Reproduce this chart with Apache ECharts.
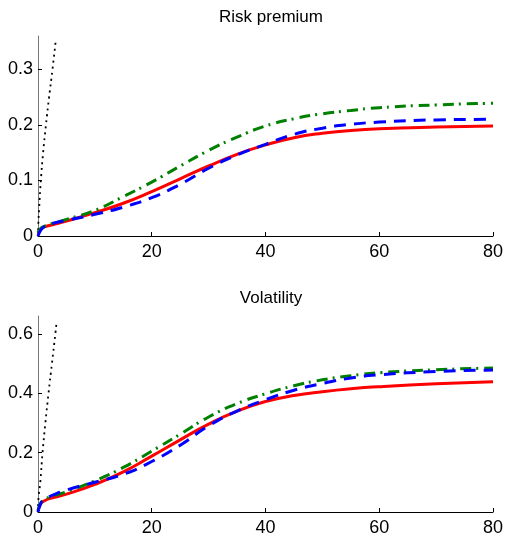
<!DOCTYPE html>
<html>
<head>
<meta charset="utf-8">
<script src="https://cdn.jsdelivr.net/npm/echarts@6/dist/echarts.min.js"></script>
<style>
html,body{margin:0;padding:0;background:#fff;}
#chart{width:506px;height:537px;}
</style>
</head>
<body>
<div id="chart"></div>
<script>
// ---- data ----
const titles = ['Risk premium', 'Volatility'];
const xTicks = [0, 20, 40, 60, 80];
const riskYTicks = [0, 0.1, 0.2, 0.3];
const volYTicks = [0, 0.2, 0.4, 0.6];

const xMain = [0, 0.5, 1, 2, 5, 10, 15, 20, 25, 30, 35, 40, 45, 50, 55, 60, 70, 80];

const riskRed   = [0.004, 0.012, 0.016, 0.019, 0.027, 0.042, 0.059, 0.080, 0.103, 0.126, 0.147, 0.164, 0.177, 0.185, 0.190, 0.193, 0.196, 0.198];
const riskGreen = [0.006, 0.014, 0.017, 0.021, 0.030, 0.046, 0.071, 0.097, 0.126, 0.154, 0.178, 0.198, 0.211, 0.220, 0.226, 0.231, 0.236, 0.239];
const riskBlue  = [0.000, 0.011, 0.016, 0.021, 0.028, 0.039, 0.052, 0.069, 0.093, 0.122, 0.146, 0.165, 0.183, 0.194, 0.201, 0.205, 0.209, 0.210];

const volRed    = [0.005, 0.028, 0.036, 0.045, 0.060, 0.093, 0.135, 0.188, 0.243, 0.296, 0.340, 0.372, 0.392, 0.405, 0.415, 0.422, 0.432, 0.439];
const volGreen  = [0.005, 0.030, 0.040, 0.050, 0.068, 0.105, 0.150, 0.205, 0.262, 0.320, 0.365, 0.398, 0.425, 0.445, 0.459, 0.469, 0.479, 0.485];
const volBlue   = [0.000, 0.030, 0.040, 0.052, 0.074, 0.100, 0.127, 0.170, 0.225, 0.290, 0.340, 0.378, 0.410, 0.433, 0.451, 0.462, 0.473, 0.478];

const xDotRisk = [0, 0.05, 0.2, 0.5, 0.9, 1.4, 1.95, 2.55, 3.1];
const riskDot  = [0, 0.02, 0.05, 0.10, 0.15, 0.20, 0.25, 0.30, 0.35];
const xDotVol  = [0, 0.1, 0.4, 0.8, 1.3, 1.85, 2.45, 3.05, 3.25];
const volDot   = [0, 0.05, 0.10, 0.20, 0.30, 0.40, 0.50, 0.60, 0.635];

// ---- build ----
const zip = (xs, ys) => xs.map((x, i) => [x, ys[i]]);
const FONT = '"Liberation Sans", Arial, sans-serif';

function xAxisCfg(gi) {
  return {
    gridIndex: gi, type: 'value', min: 0, max: 80, interval: 20,
    axisLine: { show: true, onZero: false, lineStyle: { color: '#000', width: 1 } },
    axisTick: { show: true, inside: true, length: 4, lineStyle: { color: '#000' }, customValues: xTicks },
    axisLabel: { color: '#000', fontSize: 18, fontFamily: FONT, margin: 7, customValues: xTicks },
    splitLine: { show: false }
  };
}
function yAxisCfg(gi, max, interval, ticks) {
  return {
    gridIndex: gi, type: 'value', min: 0, max: max, interval: interval,
    axisLine: { show: true, onZero: false, lineStyle: { color: '#777', width: 1 } },
    axisTick: { show: true, inside: true, length: 4, lineStyle: { color: '#000' }, customValues: ticks },
    axisLabel: { color: '#000', fontSize: 18, fontFamily: FONT, margin: 5, customValues: ticks },
    splitLine: { show: false }
  };
}
function line(gi, data, color, type, width, z) {
  return {
    type: 'line', xAxisIndex: gi, yAxisIndex: gi, data: data,
    showSymbol: false, symbol: 'none', smooth: 0.5,
    lineStyle: { color: color, width: width, type: type, cap: 'butt' },
    z: z, animation: false
  };
}

const option = {
  animation: false,
  backgroundColor: '#fff',
  title: [
    { text: titles[0], left: 266, top: 4, textAlign: 'center',
      textStyle: { fontSize: 17, fontWeight: 'normal', color: '#000', fontFamily: FONT } },
    { text: titles[1], left: 266, top: 285, textAlign: 'center',
      textStyle: { fontSize: 17, fontWeight: 'normal', color: '#000', fontFamily: FONT } }
  ],
  grid: [
    { left: 38, right: 11, top: 36, height: 200 },
    { left: 38, right: 11, top: 316, height: 200 }
  ],
  xAxis: [xAxisCfg(0), xAxisCfg(1)],
  yAxis: [yAxisCfg(0, 0.36, 0.1, riskYTicks), yAxisCfg(1, 0.66, 0.2, volYTicks)],
  series: [
    line(0, zip(xDotRisk, riskDot), '#000', [2, 4], 1.8, 1),
    line(0, zip(xMain, riskRed), '#ff0000', 'solid', 3, 2),
    line(0, zip(xMain, riskGreen), '#008000', [11, 5, 2, 6], 3, 3),
    line(0, zip(xMain, riskBlue), '#0000ff', [12, 8], 3, 4),
    line(1, zip(xDotVol, volDot), '#000', [2, 4], 1.8, 1),
    line(1, zip(xMain, volRed), '#ff0000', 'solid', 3, 2),
    line(1, zip(xMain, volGreen), '#008000', [11, 5, 2, 6], 3, 3),
    line(1, zip(xMain, volBlue), '#0000ff', [12, 8], 3, 4)
  ]
};

const chart = echarts.init(document.getElementById('chart'), null, { renderer: 'canvas' });
chart.setOption(option);
</script>
</body>
</html>
